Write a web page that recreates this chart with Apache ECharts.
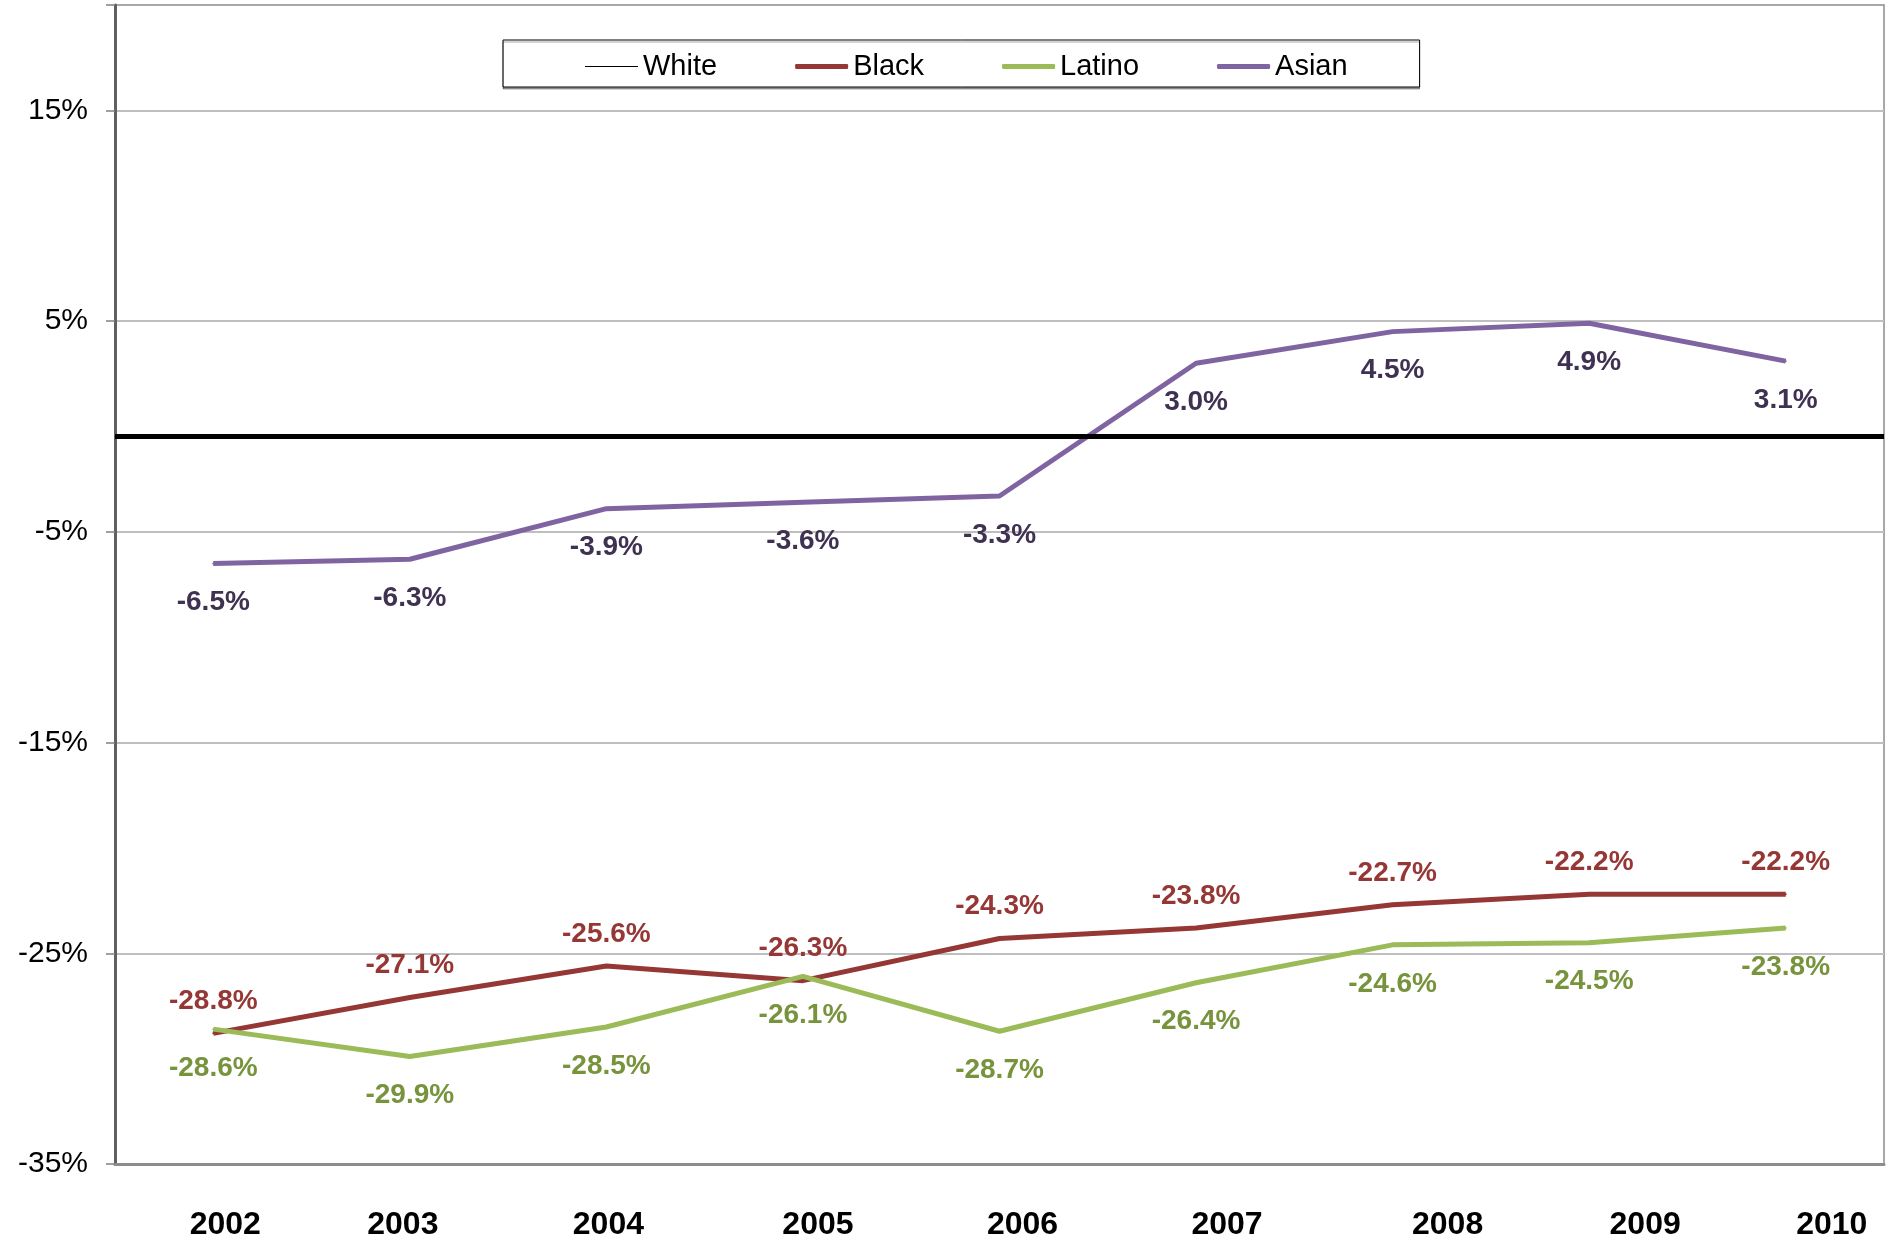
<!DOCTYPE html>
<html>
<head>
<meta charset="utf-8">
<title>Gap vs White, 2002-2010</title>
<script src="https://cdn.jsdelivr.net/npm/echarts@6/dist/echarts.min.js"></script>
<style>
  html, body { margin: 0; padding: 0; background: #fff; }
  #chart { width: 1887px; height: 1241px; }
</style>
</head>
<body>
<div id="chart"></div>
<script>
const years = ["2002", "2003", "2004", "2005", "2006", "2007", "2008", "2009", "2010"];
// the reference (White) line sits just under 0 in the picture
const whiteVals = [-0.45, -0.45, -0.45, -0.45, -0.45, -0.45, -0.45, -0.45, -0.45];
const blackVals = [-28.8, -27.1, -25.6, -26.3, -24.3, -23.8, -22.7, -22.2, -22.2];
const latinoVals = [-28.6, -29.9, -28.5, -26.1, -28.7, -26.4, -24.6, -24.5, -23.8];
const asianVals = [-6.5, -6.3, -3.9, -3.6, -3.3, 3.0, 4.5, 4.9, 3.1];
const yTickVals = [-35, -25, -15, -5, 5, 15];

// year labels in the original are not centred under the points
const yearShift = [12, -7, 2, 15, 23, 31, 55, 56, 46];

const font = "'Liberation Sans', Arial, sans-serif";
const pct = p => p.value.toFixed(1) + "%";

const yearRich = {};
yearShift.forEach((dx, i) => {
  yearRich["y" + i] = {
    color: "#000",
    fontFamily: font,
    fontWeight: "bold",
    fontSize: 32,
    padding: dx >= 0 ? [0, 0, 0, 2 * dx] : [0, -2 * dx, 0, 0],
  };
});

const chart = echarts.init(document.getElementById("chart"));

// line series with labels above / below the points
const makeSeries = (name, data, color, labelColor, pos, dist) => ({
  name: name,
  type: "line",
  data: data,
  color: color,
  symbol: "circle",
  symbolSize: 2,
  lineStyle: { width: 5, color: color },
  itemStyle: { color: color },
  label: {
    show: true,
    position: pos,
    distance: dist,
    formatter: pct,
    color: labelColor,
    fontFamily: font,
    fontWeight: "bold",
    fontSize: 28,
  },
  emphasis: { disabled: true },
  z: 3,
});

chart.setOption({
  animation: false,
  backgroundColor: "#fff",
  grid: {
    left: 115,
    right: 3,
    top: 5,
    bottom: 76,
    show: true,
    borderColor: "#8c8c8c",
    borderWidth: 1.5,
  },
  legend: {
    left: 503,
    top: 40,
    padding: [12, 72, 6, 82],
    itemGap: 78,
    itemWidth: 53,
    itemHeight: 5,
    borderColor: "#000",
    borderWidth: 1,
    backgroundColor: "#fff",
    shadowColor: "rgba(0,0,0,0.35)",
    shadowOffsetY: 2,
    shadowBlur: 0,
    textStyle: { color: "#000", fontFamily: font, fontSize: 29 },
    data: [
      { name: "White", icon: "path://M0,0 H53 V1 H0 Z" },
      { name: "Black", icon: "roundRect" },
      { name: "Latino", icon: "roundRect" },
      { name: "Asian", icon: "roundRect" },
    ],
  },
  xAxis: {
    type: "category",
    data: years,
    boundaryGap: true,
    axisLine: { onZero: false, lineStyle: { color: "#8c8c8c", width: 3 } },
    axisTick: { show: false },
    axisLabel: {
      margin: 45,
      formatter: (v, i) => "{y" + i + "|" + v + "}",
      rich: yearRich,
    },
  },
  yAxis: [
    {
      type: "value",
      min: -35,
      max: 20,
      interval: 5,
      axisLine: { show: true, lineStyle: { color: "#606060", width: 3 } },
      axisTick: { show: false },
      axisLabel: {
        margin: 27,
        color: "#000",
        fontFamily: font,
        fontSize: 30,
        formatter: v => (yTickVals.includes(v) ? v + "%" : ""),
      },
      splitLine: {
        show: true,
        lineStyle: { color: ["#bfbfbf", "rgba(0,0,0,0)"], width: 2 },
      },
    },
    {
      // tick marks only, shifted range so ticks land on the labelled values
      type: "value",
      position: "left",
      min: -30,
      max: 25,
      interval: 10,
      axisLine: { show: false },
      axisTick: { show: true, length: 9, lineStyle: { color: "#808080", width: 1.5 } },
      axisLabel: { show: false },
      splitLine: { show: false },
    },
  ],
  series: [
    {
      name: "White",
      type: "line",
      data: whiteVals,
      color: "#000",
      symbol: "none",
      lineStyle: { width: 1, color: "#000" },
      emphasis: { disabled: true },
      markLine: {
        silent: true,
        symbol: "none",
        label: { show: false },
        lineStyle: { color: "#000", width: 5, type: "solid" },
        data: [{ yAxis: whiteVals[0] }],
      },
      z: 2,
    },
    makeSeries("Black", blackVals, "#953735", "#953735", "top", 17),
    makeSeries("Latino", latinoVals, "#9bbb59", "#77933c", "bottom", 24),
    makeSeries("Asian", asianVals, "#8064a2", "#3f3151", "bottom", 24),
  ],
});
</script>
</body>
</html>
